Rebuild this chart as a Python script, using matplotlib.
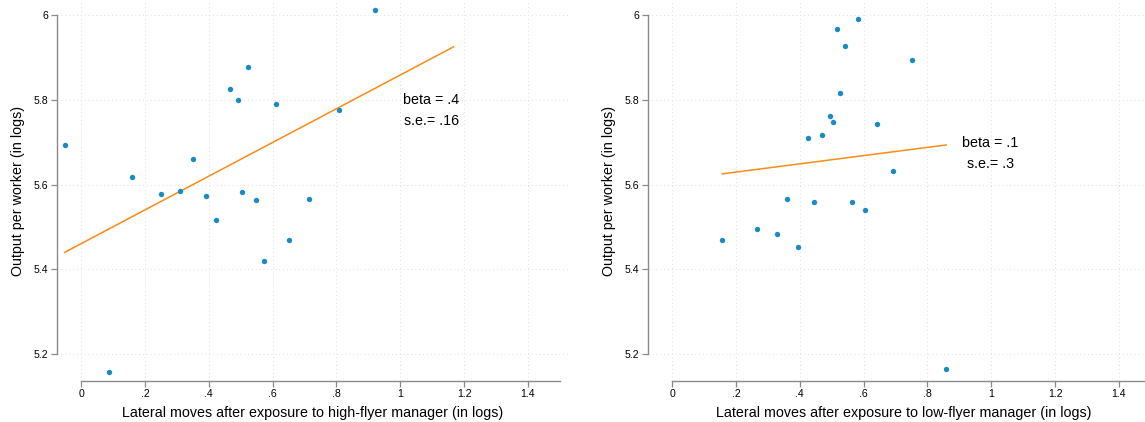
import numpy as np
import matplotlib
matplotlib.use("Agg")
import matplotlib.pyplot as plt

plt.rcParams["font.family"] = ["Liberation Sans", "DejaVu Sans"]

# high-flyer panel
high_x = [-0.052, 0.086, 0.160, 0.249, 0.311, 0.350, 0.390, 0.422, 0.466, 0.490,
          0.503, 0.524, 0.548, 0.572, 0.610, 0.652, 0.714, 0.808, 0.921]
high_y = [5.694, 5.158, 5.618, 5.577, 5.586, 5.660, 5.574, 5.517, 5.824, 5.800,
          5.583, 5.876, 5.563, 5.421, 5.789, 5.470, 5.566, 5.775, 6.010]
high_fit_range = [-0.052, 1.167]
high_fit_coef = [5.461, 0.397]   # intercept, slope
high_text = ["beta = .4", "s.e.= .16"]

# low-flyer panel
low_x = [0.157, 0.265, 0.328, 0.360, 0.393, 0.424, 0.443, 0.469, 0.493, 0.505,
         0.517, 0.527, 0.543, 0.562, 0.581, 0.604, 0.641, 0.691, 0.751, 0.859]
low_y = [5.469, 5.496, 5.484, 5.565, 5.452, 5.709, 5.559, 5.716, 5.761, 5.748,
         5.966, 5.816, 5.927, 5.559, 5.991, 5.539, 5.743, 5.631, 5.893, 5.165]
low_fit_range = [0.157, 0.859]
low_fit_coef = [5.610, 0.097]
low_text = ["beta = .1", "s.e.= .3"]

x_ticks = [0, 0.2, 0.4, 0.6, 0.8, 1.0, 1.2, 1.4]
x_ticklabels = ["0", ".2", ".4", ".6", ".8", "1", "1.2", "1.4"]
y_ticks = [5.2, 5.4, 5.6, 5.8, 6.0]
y_ticklabels = ["5.2", "5.4", "5.6", "5.8", "6"]

dot_color = "#1a8ac4"
line_color = "#f98b16"
axis_color = "#8a8a8a"


def draw_panel(ax, xs, ys, fit_range, coef, text, text_pos, xlabel):
    ax.set_xlim(-0.077, 1.526)
    ax.set_ylim(5.138, 6.03)
    ax.grid(True, linestyle=(0, (1, 3)), color="#dedede", linewidth=0.7)
    ax.set_axisbelow(True)

    ax.scatter(xs, ys, s=15, color=dot_color, zorder=3, linewidths=0)
    fx = np.array(fit_range)
    ax.plot(fx, coef[0] + coef[1] * fx, color=line_color, linewidth=1.1, zorder=2)

    ax.text(text_pos[0], text_pos[1], text[0], ha="center", va="center", fontsize=10.3)
    ax.text(text_pos[0], text_pos[1] - 0.05, text[1], ha="center", va="center", fontsize=10.3)

    ax.set_xticks(x_ticks)
    ax.set_xticklabels(x_ticklabels)
    ax.set_yticks(y_ticks)
    ax.set_yticklabels(y_ticklabels)
    ax.tick_params(labelsize=7.6, color=axis_color, length=4, width=0.9, pad=2)

    for side in ["top", "right"]:
        ax.spines[side].set_visible(False)
    ax.spines["bottom"].set_bounds(0, 1.5)
    ax.spines["left"].set_bounds(5.2, 6.0)
    for side in ["bottom", "left"]:
        ax.spines[side].set_color(axis_color)
        ax.spines[side].set_linewidth(1.0)

    ax.set_xlabel(xlabel, fontsize=10.3, labelpad=5)
    ax.set_ylabel("Output per worker (in logs)", fontsize=10.3, labelpad=6)


fig = plt.figure(figsize=(11.45, 4.22), dpi=100)
W, H = 1145.0, 422.0
ax1 = fig.add_axes([56.7 / W, (H - 380.7) / H, 511.3 / W, 378.7 / H])
ax2 = fig.add_axes([647.7 / W, (H - 380.7) / H, 511.3 / W, 378.7 / H])

draw_panel(ax1, high_x, high_y, high_fit_range, high_fit_coef, high_text, (1.098, 5.80),
           "Lateral moves after exposure to high-flyer manager (in logs)")
draw_panel(ax2, low_x, low_y, low_fit_range, low_fit_coef, low_text, (0.997, 5.699),
           "Lateral moves after exposure to low-flyer manager (in logs)")

fig.savefig("out.png", dpi=100)
plt.close(fig)
